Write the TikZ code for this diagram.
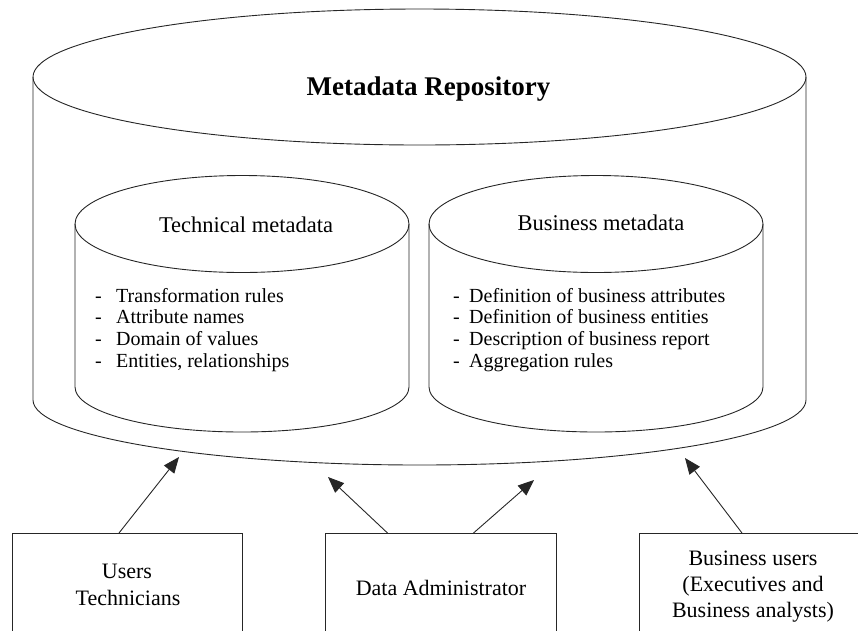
\documentclass[tikz,border=0pt]{standalone}
\usepackage{fontspec}
\setmainfont{Liberation Serif}
\usetikzlibrary{arrows.meta}
\begin{document}
\begin{tikzpicture}[x=1pt,y=1pt,
  outline/.style={line width=0.9pt, draw=black!85},
  reptitle/.style={font=\fontsize{27}{30}\selectfont\bfseries, anchor=base, inner sep=0pt},
  dbtitle/.style={font=\fontsize{22.5}{26}\selectfont, anchor=base, inner sep=0pt},
  listitem/.style={font=\fontsize{20}{22}\selectfont, anchor=base west, inner sep=0pt},
  actor/.style={draw=black!85, line width=0.9pt, minimum width=230pt,
                minimum height=120pt, anchor=north, inner sep=0pt},
  actortext/.style={font=\fontsize{22}{26}\selectfont, anchor=base, inner sep=0pt},
  feed/.style={line width=0.9pt, draw=black!85,
               -{Triangle[length=16pt,width=13pt]}}
]
\useasboundingbox (0,0) rectangle (858,-630);
\clip (0,0) rectangle (858,-630);

% outer repository cylinder
\draw[outline] (419.5,-77) ellipse [x radius=386.5, y radius=68];
\draw[outline] (33,-77) -- (33,-400)
  arc [start angle=180, end angle=360, x radius=386.5, y radius=65]
  -- (806,-77);
\node[reptitle] (repo) at (428.5,-95) {Metadata Repository};

% technical metadata cylinder
\draw[outline] (242,-224) ellipse [x radius=167, y radius=48.5];
\draw[outline] (75,-224) -- (75,-387)
  arc [start angle=180, end angle=360, x radius=167, y radius=45]
  -- (409,-224);
\node[dbtitle] (tech) at (246,-232) {Technical metadata};
\foreach \t [count=\i] in {Transformation rules, Attribute names,
    Domain of values, {Entities, relationships}}
  \node[listitem] (tech-\i) at (95,{-302-21.7*(\i-1)})
    {\makebox[21pt][l]{-}\t};

% business metadata cylinder
\draw[outline] (596,-224) ellipse [x radius=167, y radius=48.5];
\draw[outline] (429,-224) -- (429,-387)
  arc [start angle=180, end angle=360, x radius=167, y radius=45]
  -- (763,-224);
\node[dbtitle] (biz) at (601,-230) {Business metadata};
\foreach \t [count=\i] in {Definition of business attributes,
    Definition of business entities, Description of business report,
    Aggregation rules}
  \node[listitem] (biz-\i) at (453,{-302-21.7*(\i-1)})
    {\makebox[16pt][l]{-}\t};

% user groups
\node[actor] (users) at (127,-533) {};
\node[actortext] (users-1) at (127,-578) {Users};
\node[actortext] (users-2) at (128,-605) {Technicians};

\node[actor, minimum width=231pt] (admin) at (440.5,-533) {};
\node[actortext] (admin-1) at (441,-595) {Data Administrator};

\node[actor] (busers) at (754,-533) {};
\node[actortext] (busers-1) at (753,-565) {Business users};
\node[actortext] (busers-2) at (753,-591) {(Executives and};
\node[actortext] (busers-3) at (753,-617) {Business analysts)};

% arrow tips at the repository
\coordinate (tipA) at (179,-457);
\coordinate (tipB) at (328,-477);
\coordinate (tipC) at (534,-480);
\coordinate (tipD) at (685,-458);

\draw[feed] ([xshift=-8pt]users.north) -- (tipA);
\draw[feed] ([xshift=-53pt]admin.north) -- (tipB);
\draw[feed] ([xshift=33pt]admin.north) -- (tipC);
\draw[feed] ([xshift=-12pt]busers.north) -- (tipD);
\end{tikzpicture}
\end{document}
